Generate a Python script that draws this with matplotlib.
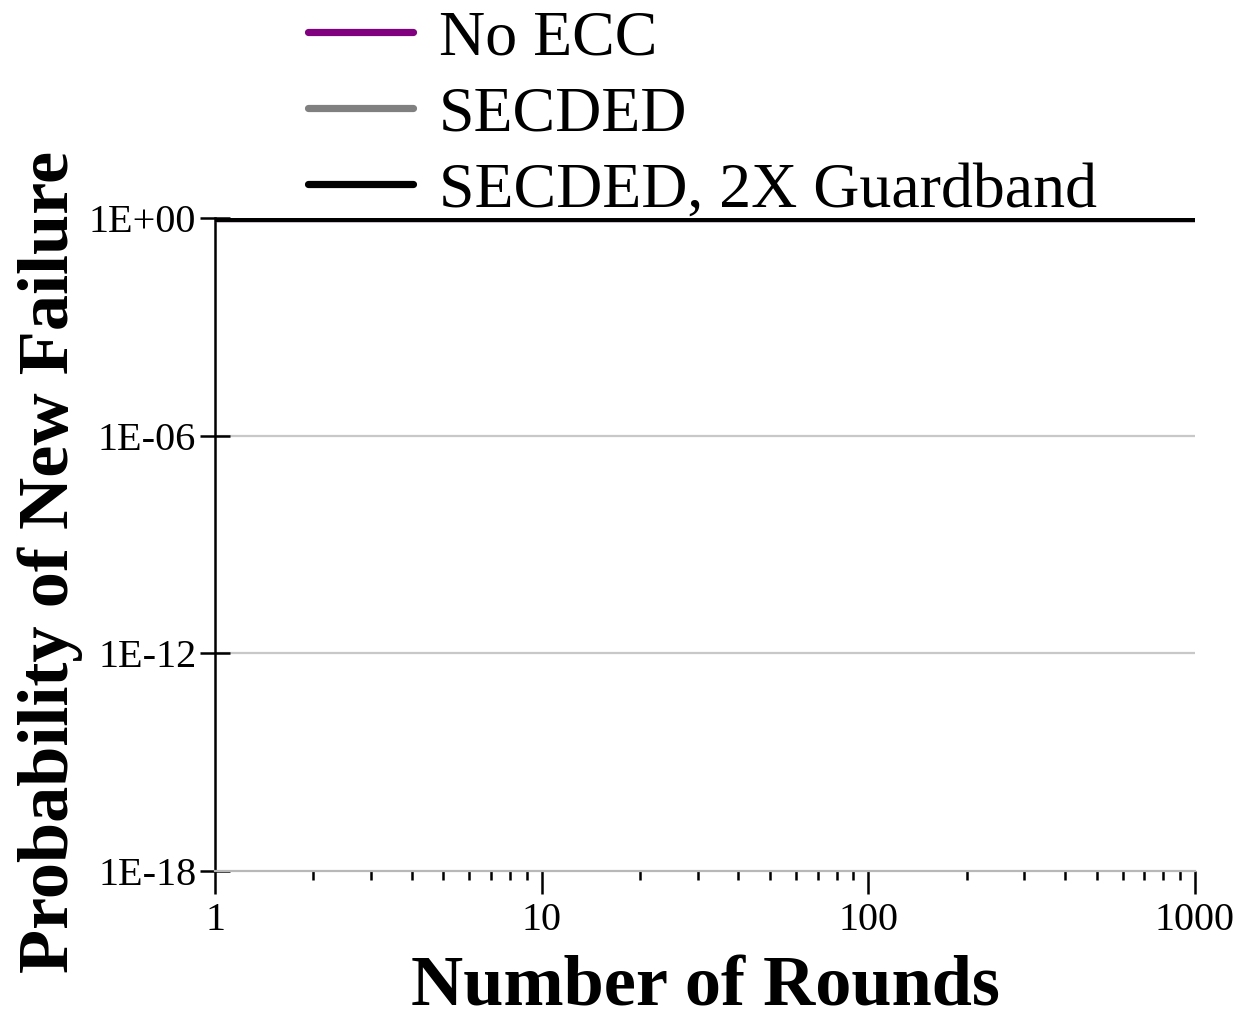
import matplotlib
matplotlib.use("Agg")
import matplotlib.pyplot as plt
from matplotlib.ticker import LogLocator, FixedLocator, NullFormatter

plt.rcParams['font.family'] = ['Liberation Serif', 'DejaVu Serif']

# Data
rounds = [1, 2, 5, 10, 20, 50, 100, 200, 500, 1000]
p_no_ecc = [1.0, 1.0, 1.0, 1.0, 1.0, 1.0, 1.0, 1.0, 1.0, 1.0]
p_secded = [1.0, 1.0, 1.0, 1.0, 1.0, 1.0, 1.0, 1.0, 1.0, 1.0]
p_secded_2x = [1.0, 1.0, 1.0, 1.0, 1.0, 1.0, 1.0, 1.0, 1.0, 1.0]
series_labels = ["No ECC", "SECDED", "SECDED, 2X Guardband"]
y_ticks = [1e-18, 1e-12, 1e-6, 1e0]
y_tick_labels = ["1E-18", "1E-12", "1E-06", "1E+00"]
x_ticks = [1, 10, 100, 1000]
x_tick_labels = ["1", "10", "100", "1000"]

W, H = 1240, 1021
fig = plt.figure(figsize=(W / 100, H / 100), dpi=100)
ax = fig.add_axes([215 / W, 1 - 871 / H, (1195 - 215) / W, (871 - 218) / H])

colors = ["#800080", "#808080", "#000000"]
for ys, c, lab in zip([p_no_ecc, p_secded, p_secded_2x], colors, series_labels):
    ax.plot(rounds, ys, color=c, lw=5.2, solid_capstyle='round', label=lab, zorder=3)

ax.set_xscale('log')
ax.set_yscale('log')
ax.set_xlim(1, 1000)
ax.set_ylim(1e-18, 1e0)

ax.yaxis.set_major_locator(FixedLocator(y_ticks))
ax.set_yticklabels(y_tick_labels)
ax.yaxis.set_minor_locator(FixedLocator([]))
ax.xaxis.set_major_locator(FixedLocator(x_ticks))
ax.set_xticklabels(x_tick_labels)
ax.xaxis.set_minor_locator(LogLocator(base=10, subs=range(2, 10)))
ax.xaxis.set_minor_formatter(NullFormatter())

for y in y_ticks[1:3]:
    ax.axhline(y, color='#c8c8c8', lw=1.6, zorder=1)

ax.spines['top'].set_visible(False)
ax.spines['right'].set_visible(False)
ax.spines['left'].set_linewidth(1.8)
ax.spines['left'].set_color('black')
ax.spines['bottom'].set_linewidth(1.6)
ax.spines['bottom'].set_color('#b8b8b8')

ax.tick_params(axis='y', which='major', direction='inout', length=21, width=1.8,
               labelsize=29, pad=3)
ax.tick_params(axis='x', which='major', direction='out', length=16.5, width=1.8,
               labelsize=29, pad=6)
ax.tick_params(axis='x', which='minor', direction='out', length=6.5, width=1.8)

ax.set_xlabel("Number of Rounds", fontsize=52, fontweight='bold', labelpad=12)
fig.text(50 / W, 1 - 562 / H, "Probability of New Failure", fontsize=52,
         fontweight='bold', rotation=90, ha='center', va='center')

handles, labels = ax.get_legend_handles_labels()
leg = fig.legend(handles, labels, loc='upper left', bbox_to_anchor=(308 / W, 1 - 10 / H),
                 fontsize=46, frameon=False, handlelength=1.65, handletextpad=0.4,
                 labelspacing=0.27, borderaxespad=0, borderpad=0)

fig.savefig("out.png", dpi=100, facecolor='white')
